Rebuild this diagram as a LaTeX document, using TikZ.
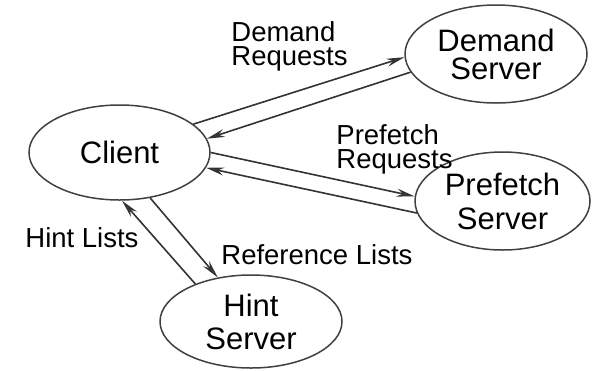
\documentclass[tikz,border=0pt]{standalone}
\usepackage{fontspec}
\setmainfont{Liberation Sans}
\usetikzlibrary{arrows.meta,shapes.geometric}
\begin{document}
\begin{tikzpicture}[x=0.5pt,y=-0.5pt,
		srv/.style={ellipse,draw=black!75,line width=0.75pt,inner sep=0pt,align=center,
			font=\fontsize{15.5}{16.5}\selectfont},
		lbl/.style={anchor=north west,inner sep=0pt,align=left,
			font=\fontsize{13.75}{12}\selectfont},
		arr/.style={draw=black!80,line width=0.8pt,
			-{Stealth[length=9pt,width=4pt,fill=black!55]}}]
		\useasboundingbox (0,0) rectangle (592,370);
		% servers and client
		\node[srv,minimum width=90.5pt,minimum height=47.5pt] (client) at (119.5,152.5) {Client};
		\node[srv,minimum width=91pt,minimum height=49pt,font=\fontsize{15.5}{14}\selectfont] (demand) at (496,54) {Demand\\Server};
		\node[srv,minimum width=87.5pt,minimum height=49pt,font=\fontsize{15.5}{17}\selectfont] (prefetch) at (502.5,201) {Prefetch\\Server};
		\node[srv,minimum width=91pt,minimum height=46.5pt] (hint) at (251,321.5) {Hint\\Server};
		% labels
		\node[lbl] (dreq) at (231,21) {Demand\\Requests};
		\node[lbl] (preq) at (336,124) {Prefetch\\Requests};
		\node[lbl] (hlist) at (25,227) {Hint Lists};
		\node[lbl] (rlist) at (221,244) {Reference Lists};
		% requests and lists
		\draw[arr] (client.21) -- (demand.182);
		\draw[arr] (demand.192) -- (client.9);
		\draw[arr] (client.0) -- (prefetch.177);
		\draw[arr] (prefetch.188) -- (client.-10);
		\draw[arr] (hint.146) -- (client.273);
		\draw[arr] (client.-56) -- (hint.127);
	\end{tikzpicture}
\end{document}
